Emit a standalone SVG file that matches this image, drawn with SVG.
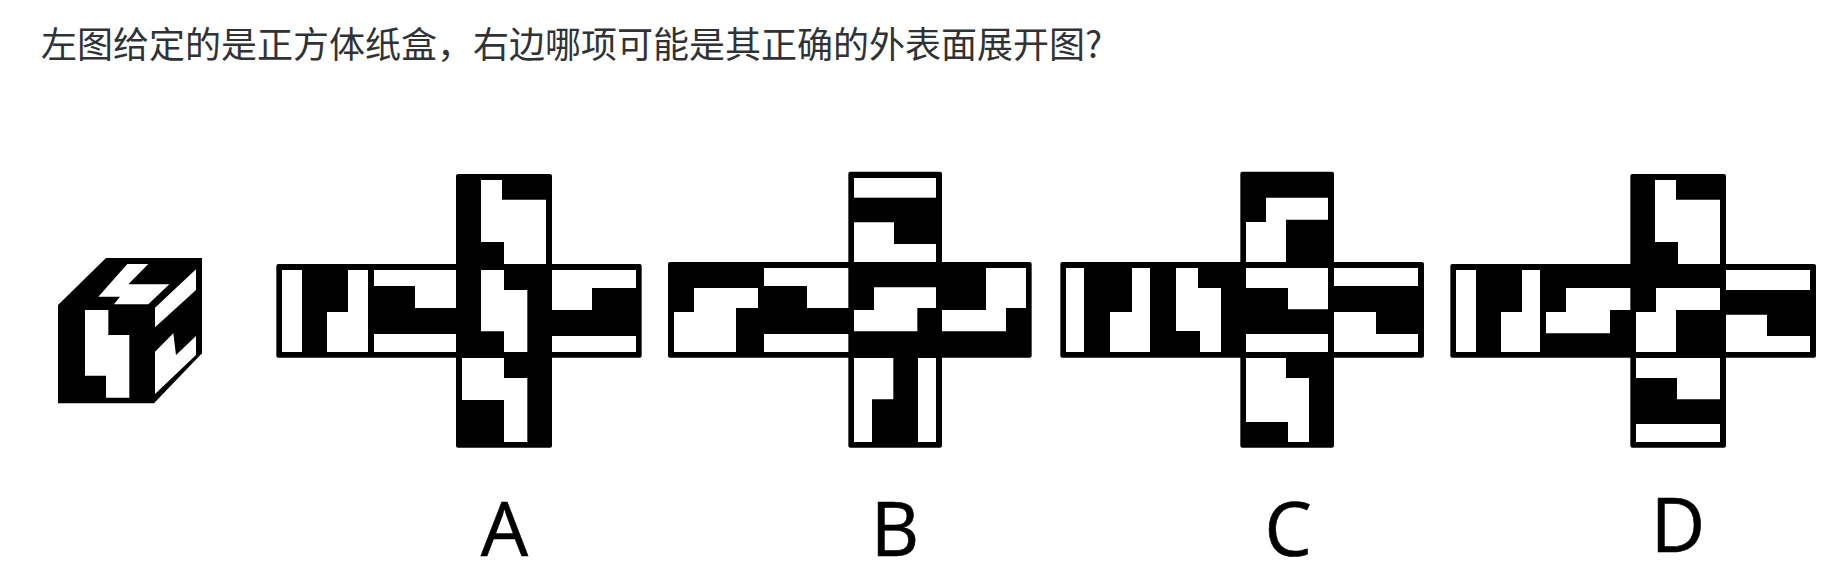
<svg xmlns="http://www.w3.org/2000/svg" width="1839" height="572" viewBox="0 0 1839 572">
<style>
.b{fill:#000}
.w{fill:#fff}
.t{font-family:"Noto Sans CJK SC","Noto Sans",sans-serif;font-size:36px;fill:#2f3336}
.l{font-family:"Open Sans","Noto Sans",sans-serif;font-size:75px;fill:#000;text-anchor:middle;stroke:#000;stroke-width:.6px}
</style>
<rect width="1839" height="572" fill="#fff"/>
<text class="t" x="41" y="57.500">左图给定的是正方体纸盒，右边哪项可能是其正确的外表面展开图?</text>
<g id="cube" transform="translate(40 240) scale(.33333)">
<polygon class="b" points="54,195 198,54 486,54 486,340 342,490 54,490"/>
<polygon class="w" points="135,210 205,210 205,285 268,285 268,473 198,473 198,407 135,407"/>
<polygon class="w" points="262,72 325,72 265,133 388,133 325,193 222,193 240,170 175,170"/>
<polygon class="w" points="345,203 468,88 468,150 345,262"/>
<polygon class="w" points="345,335 400,280 408,345 468,288 468,345 345,462"/>
</g>
<g id="netA" transform="translate(270 165) scale(.33333)">
<rect class="b" x="19" y="297" width="1096" height="281" rx="6"/>
<rect class="b" x="558" y="27" width="288" height="821" rx="6"/>
<polygon class="w" points="633,45 696,45 696,104 828,104 828,297 702,297 702,231 633,231"/>
<rect class="w" x="36" y="315" width="60" height="246"/>
<polygon class="w" points="234,315 294,315 294,561 171,561 171,441 234,441"/>
<polygon class="w" points="312,315 558,315 558,429 435,429 435,363 312,363"/>
<rect class="w" x="312" y="507" width="246" height="54"/>
<polygon class="w" points="633,315 702,315 702,375 772,375 772,561 702,561 702,499 633,499"/>
<polygon class="w" points="846,315 1098,315 1098,369 966,369 966,435 846,435"/>
<rect class="w" x="846" y="513" width="252" height="48"/>
<polygon class="w" points="576,579 702,579 702,639 772,639 772,831 702,831 702,705 576,705"/>
</g>
<g id="netB" transform="translate(660 165) scale(.33333)">
<rect class="b" x="24" y="291" width="1091" height="287" rx="6"/>
<rect class="b" x="565" y="20" width="281" height="828" rx="6"/>
<rect class="w" x="582" y="39" width="246" height="59"/>
<polygon class="w" points="582,172 702,172 702,237 828,237 828,291 582,291"/>
<polygon class="w" points="42,441 102,441 102,369 294,369 294,429 228,429 228,561 42,561"/>
<polygon class="w" points="312,309 565,309 565,429 441,429 441,363 312,363"/>
<rect class="w" x="312" y="507" width="253" height="54"/>
<polygon class="w" points="582,435 642,435 642,367 828,367 828,429 772,429 772,499 582,499"/>
<polygon class="w" points="846,435 978,435 978,309 1098,309 1098,429 1038,429 1038,499 846,499"/>
<polygon class="w" points="582,579 700,579 700,703 636,703 636,831 582,831"/>
<rect class="w" x="774" y="579" width="54" height="252"/>
</g>
<g id="netC" transform="translate(1050 165) scale(.33333)">
<rect class="b" x="31" y="291" width="1091" height="287" rx="6"/>
<rect class="b" x="571" y="20" width="281" height="828" rx="6"/>
<polygon class="w" points="588,171 648,171 648,98 834,98 834,164 708,164 708,291 588,291"/>
<rect class="w" x="48" y="309" width="54" height="252"/>
<polygon class="w" points="246,309 300,309 300,561 180,561 180,441 246,441"/>
<polygon class="w" points="378,309 444,309 444,369 513,369 513,561 450,561 450,498 378,498"/>
<polygon class="w" points="588,309 834,309 834,433 714,433 714,369 588,369"/>
<rect class="w" x="588" y="507" width="246" height="54"/>
<rect class="w" x="852" y="309" width="252" height="54"/>
<polygon class="w" points="852,441 978,441 978,507 1104,507 1104,561 852,561"/>
<polygon class="w" points="588,579 708,579 708,639 777,639 777,831 714,831 714,771 588,771"/>
</g>
<g id="netD" transform="translate(1440 165) scale(.33333)">
<rect class="b" x="31" y="297" width="1097" height="281" rx="6"/>
<rect class="b" x="571" y="27" width="287" height="821" rx="6"/>
<polygon class="w" points="645,45 708,45 708,104 840,104 840,297 714,297 714,231 645,231"/>
<rect class="w" x="48" y="315" width="60" height="246"/>
<polygon class="w" points="246,315 300,315 300,561 183,561 183,441 246,441"/>
<polygon class="w" points="318,441 378,441 378,369 571,369 571,435 510,435 510,505 318,505"/>
<polygon class="w" points="588,441 648,441 648,369 840,369 840,435 708,435 708,561 588,561"/>
<rect class="w" x="858" y="315" width="252" height="60"/>
<polygon class="w" points="858,449 981,449 981,513 1110,513 1110,561 858,561"/>
<polygon class="w" points="588,579 840,579 840,703 711,703 711,639 588,639"/>
<rect class="w" x="588" y="777" width="252" height="54"/>
</g>
<g id="connectors"></g>
<text class="l" x="504.500" y="555.500">A</text>
<text class="l" x="895" y="555.500">B</text>
<text class="l" x="1288" y="555.500">C</text>
<text class="l" x="1678" y="551.500">D</text>
</svg>
